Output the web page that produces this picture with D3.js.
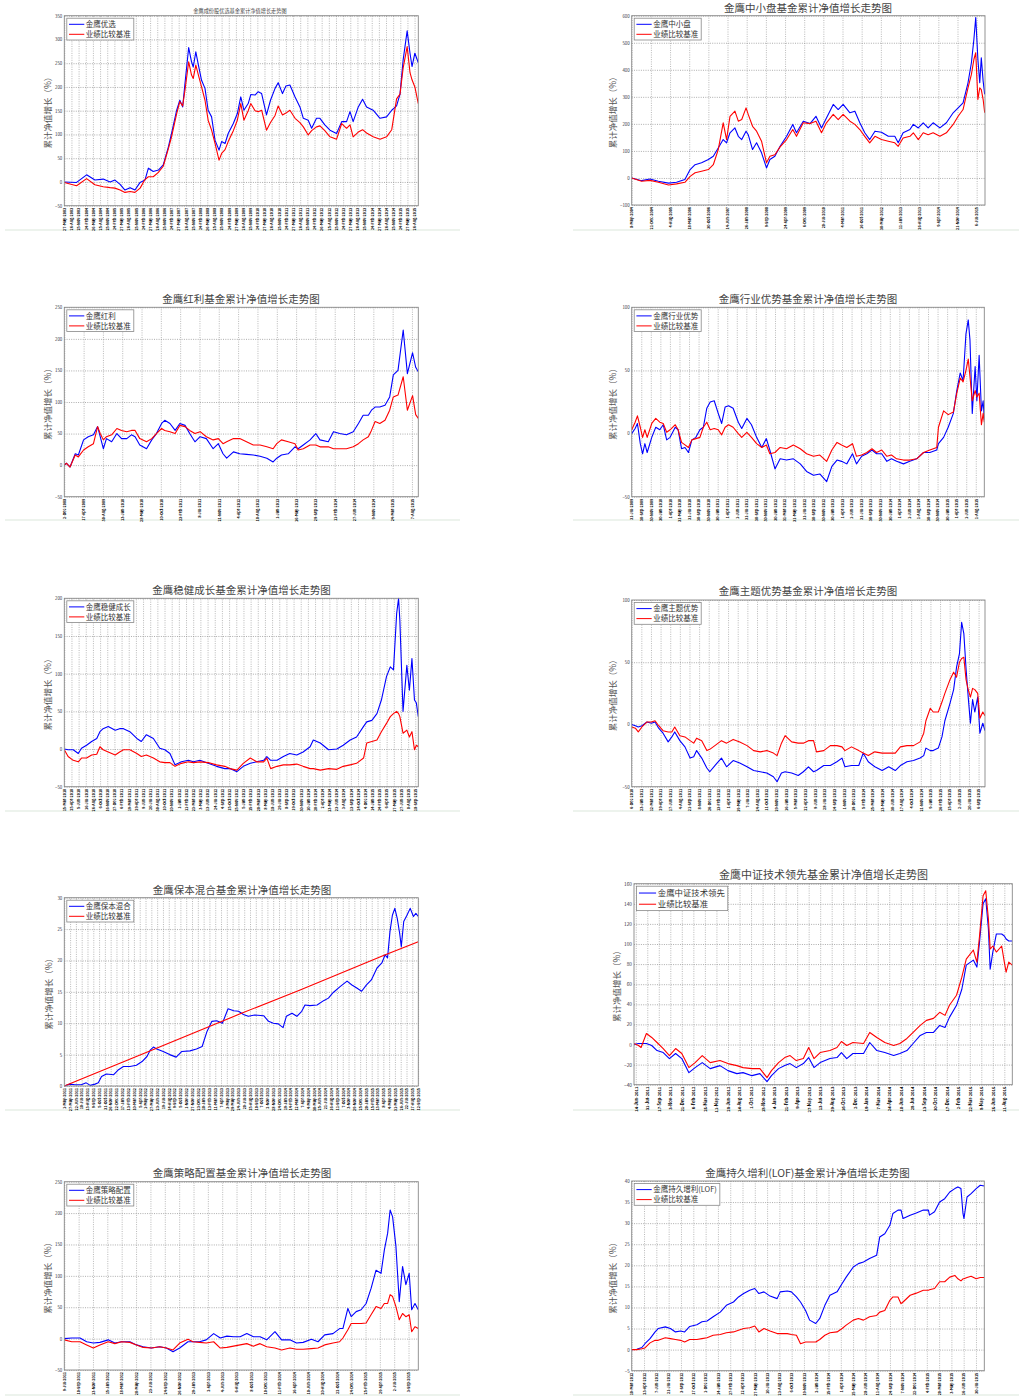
<!DOCTYPE html>
<html>
<head>
<meta charset="utf-8">
<script src="https://cdn.jsdelivr.net/npm/d3@7"></script>
<style>
body { margin: 0; background: #fff; }
svg text { font-family: "Noto Sans CJK SC", "Noto Sans", sans-serif; }
</style>
</head>
<body>
<svg id="chart" width="1019" height="1396"></svg>
<script>
(function() {

//names shown in titles and legends
var titles = ["金鹰成份股优选基金累计净值增长走势图", "金鹰中小盘基金累计净值增长走势图", "金鹰红利基金累计净值增长走势图",
    "金鹰行业优势基金累计净值增长走势图", "金鹰稳健成长基金累计净值增长走势图", "金鹰主题优势基金累计净值增长走势图",
    "金鹰保本混合基金累计净值增长走势图", "金鹰中证技术领先基金累计净值增长走势图", "金鹰策略配置基金累计净值增长走势图",
    "金鹰持久增利(LOF)基金累计净值增长走势图"];
var fundNames = ["金鹰优选", "金鹰中小盘", "金鹰红利", "金鹰行业优势", "金鹰稳健成长", "金鹰主题优势",
    "金鹰保本混合", "金鹰中证技术领先", "金鹰策略配置", "金鹰持久增利(LOF)"];
var benchName = "业绩比较基准";
var yLabel = "累计净值增长（%）";

//x ranges in decimal years, date tick start and step (years)
var xDomains = [[2003.4, 2015.78], [2004.35, 2015.78], [2008.92, 2015.72], [2009.58, 2015.73], [2010.2, 2015.76],
    [2010.93, 2015.77], [2011.33, 2015.7], [2011.43, 2015.7], [2011.52, 2015.79], [2012.19, 2015.66]];
var xTickStart = [2003.4, 2004.35, 2008.92, 2009.58, 2010.2, 2010.93, 2011.33, 2011.45, 2011.52, 2012.19];
var xTickStep = [0.25, 0.62, 0.371, 0.1667, 0.1125, 0.132, 0.0716, 0.13, 0.173, 0.121];

//y tick values
var yTicks = [
    [-50, 0, 50, 100, 150, 200, 250, 300, 350],
    [-100, 0, 100, 200, 300, 400, 500, 600],
    [-50, 0, 50, 100, 150, 200, 250],
    [-50, 0, 50, 100],
    [-50, 0, 50, 100, 150, 200],
    [-50, 0, 50, 100],
    [0, 5, 10, 15, 20, 25, 30],
    [-40, -20, 0, 20, 40, 60, 80, 100, 120, 140, 160],
    [-50, 0, 50, 100, 150, 200, 250],
    [-5, 0, 5, 10, 15, 20, 25, 30, 35, 40]
];

//panel 1 金鹰优选
var p1T = [2003.40, 2003.83, 2004.18, 2004.47, 2004.76, 2005.00, 2005.17, 2005.35, 2005.52, 2005.70,
    2005.87, 2006.05, 2006.22, 2006.34, 2006.51, 2006.69, 2006.86, 2007.04, 2007.15, 2007.33,
    2007.44, 2007.54, 2007.62, 2007.75, 2007.85, 2007.91, 2008.00, 2008.09, 2008.20, 2008.32,
    2008.43, 2008.55, 2008.67, 2008.81, 2008.90, 2009.02, 2009.13, 2009.31, 2009.45, 2009.57,
    2009.68, 2009.83, 2009.92, 2010.07, 2010.18, 2010.30, 2010.47, 2010.61, 2010.77, 2010.88,
    2011.03, 2011.15, 2011.29, 2011.47, 2011.64, 2011.76, 2011.93, 2012.05, 2012.22, 2012.34,
    2012.51, 2012.69, 2012.92, 2013.10, 2013.27, 2013.39, 2013.50, 2013.68, 2013.83, 2013.97,
    2014.20, 2014.44, 2014.67, 2014.85, 2015.02, 2015.14, 2015.25, 2015.39, 2015.49, 2015.56,
    2015.66, 2015.78];
var p1Fund = [0, -1, 15, 4, 6, 0, 4, -5, -17, -12, -17, -1, 4, 29, 22, 25, 36, 74, 102, 151,
    172, 158, 207, 283, 253, 242, 274, 246, 214, 197, 151, 137, 88, 67, 85, 81, 102, 123, 144, 179,
    151, 165, 184, 183, 190, 186, 141, 172, 197, 209, 186, 202, 204, 179, 158, 134, 130, 113, 134, 134,
    120, 109, 102, 127, 127, 148, 127, 158, 174, 158, 151, 134, 137, 151, 160, 185, 257, 318, 271, 243,
    271, 251];
var p1Bench = [-1, -8, 7, -6, -10, -12, -13, -17, -22, -20, -22, -13, 5, 11, 11, 20, 33, 70, 95, 144,
    169, 160, 193, 253, 225, 218, 246, 225, 200, 172, 130, 109, 81, 46, 60, 68, 85, 108, 130, 165,
    130, 150, 165, 150, 148, 151, 109, 125, 140, 160, 141, 145, 151, 134, 125, 116, 99, 108, 116, 118,
    108, 95, 90, 123, 113, 120, 95, 105, 110, 103, 95, 90, 95, 110, 175, 185, 240, 285, 230, 215,
    200, 165];

//panel 2 金鹰中小盘
var p2T = [2004.35, 2004.67, 2004.94, 2005.21, 2005.54, 2005.80, 2006.07, 2006.24, 2006.40, 2006.61,
    2006.83, 2006.99, 2007.15, 2007.31, 2007.42, 2007.53, 2007.69, 2007.80, 2007.91, 2008.05,
    2008.12, 2008.26, 2008.39, 2008.55, 2008.71, 2008.82, 2008.98, 2009.15, 2009.36, 2009.56,
    2009.68, 2009.90, 2010.12, 2010.31, 2010.49, 2010.65, 2010.87, 2011.03, 2011.19, 2011.41,
    2011.57, 2011.73, 2011.89, 2012.05, 2012.22, 2012.43, 2012.65, 2012.86, 2012.97, 2013.13,
    2013.35, 2013.46, 2013.62, 2013.78, 2013.94, 2014.10, 2014.32, 2014.53, 2014.75, 2014.91,
    2015.07, 2015.23, 2015.34, 2015.42, 2015.48, 2015.55, 2015.61, 2015.66, 2015.72, 2015.77];
var p2Fund = [0, -10, -4, -12, -19, -16, -6, 31, 49, 56, 68, 80, 111, 142, 130, 167, 185, 154, 142, 173,
    160, 105, 130, 93, 37, 68, 80, 117, 154, 198, 167, 210, 201, 228, 185, 222, 272, 253, 272, 241,
    247, 204, 167, 142, 173, 169, 154, 154, 130, 167, 179, 198, 185, 204, 185, 204, 185, 204, 241, 259,
    278, 352, 426, 512, 593, 438, 352, 444, 358, 309];
var p2Bench = [0, -12, -9, -16, -26, -22, -16, 6, 19, 25, 31, 49, 105, 204, 142, 228, 247, 210, 216, 259,
    235, 191, 173, 136, 56, 80, 86, 115, 142, 179, 154, 204, 201, 210, 167, 204, 235, 216, 235, 210,
    198, 179, 154, 130, 154, 142, 136, 130, 117, 148, 154, 167, 142, 167, 160, 167, 154, 167, 198, 228,
    253, 333, 383, 438, 463, 290, 333, 327, 290, 241];

//panel 3 金鹰红利
var p3T = [2008.92, 2008.96, 2009.03, 2009.13, 2009.19, 2009.29, 2009.38, 2009.48, 2009.56, 2009.61,
    2009.67, 2009.73, 2009.83, 2009.93, 2010.02, 2010.12, 2010.21, 2010.28, 2010.37, 2010.50,
    2010.60, 2010.69, 2010.79, 2010.85, 2010.95, 2011.05, 2011.14, 2011.24, 2011.33, 2011.43,
    2011.53, 2011.65, 2011.78, 2011.88, 2011.97, 2012.04, 2012.17, 2012.29, 2012.42, 2012.55,
    2012.68, 2012.81, 2012.93, 2013.00, 2013.09, 2013.22, 2013.35, 2013.41, 2013.51, 2013.64,
    2013.75, 2013.83, 2013.99, 2014.09, 2014.21, 2014.34, 2014.47, 2014.57, 2014.66, 2014.76,
    2014.82, 2014.89, 2014.98, 2015.08, 2015.17, 2015.24, 2015.33, 2015.43, 2015.51, 2015.61,
    2015.67, 2015.72];
var p3Fund = [0, 3, -3, 18, 16, 40, 45, 48, 61, 45, 26, 42, 37, 50, 42, 42, 48, 45, 32, 26,
    40, 50, 66, 71, 66, 55, 66, 63, 50, 37, 45, 42, 26, 34, 18, 11, 21, 18, 17, 16,
    14, 11, 5, 11, 16, 18, 29, 26, 32, 40, 50, 40, 37, 53, 50, 48, 53, 66, 79, 79,
    87, 92, 92, 95, 108, 143, 150, 214, 145, 178, 155, 148];
var p3Bench = [0, 3, -3, 16, 13, 24, 29, 34, 61, 50, 40, 45, 48, 58, 55, 53, 55, 55, 42, 37,
    42, 50, 58, 55, 53, 50, 63, 61, 55, 50, 53, 45, 40, 42, 34, 37, 42, 42, 37, 32,
    32, 29, 26, 34, 40, 37, 34, 24, 26, 32, 32, 29, 29, 26, 26, 26, 29, 34, 40, 45,
    55, 69, 66, 71, 87, 108, 111, 140, 87, 110, 80, 74];

//panel 4 金鹰行业优势
var p4T = [2009.58, 2009.64, 2009.68, 2009.73, 2009.77, 2009.81, 2009.85, 2009.93, 2010.00, 2010.07,
    2010.13, 2010.19, 2010.25, 2010.34, 2010.39, 2010.45, 2010.51, 2010.57, 2010.63, 2010.70,
    2010.77, 2010.83, 2010.89, 2010.95, 2011.02, 2011.09, 2011.15, 2011.21, 2011.27, 2011.35,
    2011.44, 2011.50, 2011.59, 2011.67, 2011.76, 2011.85, 2011.93, 2011.99, 2012.08, 2012.17,
    2012.28, 2012.40, 2012.52, 2012.63, 2012.75, 2012.86, 2012.98, 2013.07, 2013.16, 2013.24,
    2013.33, 2013.43, 2013.50, 2013.59, 2013.68, 2013.77, 2013.85, 2013.94, 2014.03, 2014.11,
    2014.20, 2014.32, 2014.43, 2014.55, 2014.67, 2014.78, 2014.90, 2014.93, 2015.02, 2015.10,
    2015.19, 2015.25, 2015.31, 2015.36, 2015.41, 2015.45, 2015.48, 2015.52, 2015.57, 2015.60,
    2015.64, 2015.68, 2015.71, 2015.73];
var p4Fund = [0, 4, 8, -8, -16, -8, -15, -3, 5, 3, 7, -5, -3, 5, 3, -12, -11, -15, -5, -3,
    3, 5, 20, 25, 26, 16, 8, 21, 22, 20, 9, 4, 12, 7, -3, -11, -4, -13, -28, -20,
    -21, -20, -24, -30, -33, -32, -38, -26, -21, -22, -24, -16, -24, -18, -16, -13, -16, -16, -22, -20,
    -22, -24, -22, -20, -15, -15, -13, -8, -3, 5, 16, 34, 48, 42, 79, 90, 74, 16, 53, 26,
    62, 18, 26, 11];
var p4Bench = [3, 9, 14, 5, -3, 3, -3, 8, 12, 9, 8, 1, 3, 7, 3, -7, -9, -11, -5, -4,
    -3, 5, 9, 3, 4, 3, -1, 5, 7, 5, 0, -3, 1, -3, -8, -11, -9, -16, -15, -11,
    -12, -9, -12, -16, -18, -17, -22, -13, -7, -9, -11, -8, -18, -17, -15, -12, -15, -13, -18, -17,
    -20, -21, -21, -20, -15, -13, -11, 5, 18, 15, 17, 32, 44, 41, 50, 59, 45, 26, 34, 29,
    32, 7, 16, 9];

//panel 5 金鹰稳健成长
var p5T = [2010.20, 2010.26, 2010.34, 2010.42, 2010.47, 2010.55, 2010.63, 2010.71, 2010.76, 2010.81,
    2010.89, 2011.00, 2011.07, 2011.13, 2011.23, 2011.34, 2011.41, 2011.49, 2011.60, 2011.70,
    2011.78, 2011.86, 2011.94, 2012.04, 2012.15, 2012.23, 2012.33, 2012.46, 2012.59, 2012.72,
    2012.80, 2012.91, 2013.01, 2013.12, 2013.22, 2013.33, 2013.38, 2013.44, 2013.54, 2013.64,
    2013.74, 2013.85, 2013.95, 2014.06, 2014.11, 2014.22, 2014.35, 2014.48, 2014.58, 2014.69,
    2014.79, 2014.90, 2014.95, 2015.03, 2015.11, 2015.18, 2015.26, 2015.32, 2015.37, 2015.42,
    2015.45, 2015.47, 2015.52, 2015.58, 2015.62, 2015.66, 2015.70, 2015.73, 2015.76];
var p5Fund = [0, -1, -1, -6, 1, 5, 10, 14, 23, 27, 30, 25, 27, 27, 23, 14, 10, 19, 14, 1,
    -1, -6, -21, -17, -15, -17, -15, -19, -23, -26, -26, -30, -23, -19, -17, -15, -10, -15, -15, -10,
    -6, -8, -4, 3, 12, 8, -1, 0, 5, 12, 16, 30, 36, 38, 47, 65, 96, 109, 105, 180,
    200, 171, 50, 111, 78, 120, 65, 61, 43];
var p5Bench = [-1, -10, -15, -17, -12, -12, -8, -7, 3, -1, -4, -8, -4, -1, -1, -6, -10, -8, -12, -17,
    -18, -18, -23, -19, -17, -18, -17, -18, -21, -23, -26, -28, -19, -12, -17, -17, -12, -26, -23, -21,
    -21, -20, -23, -26, -26, -28, -26, -27, -23, -21, -19, -12, 8, 10, 12, 23, 34, 43, 47, 50,
    47, 43, 21, 25, 16, 23, -1, 5, 3];

//panel 6 金鹰主题优势
var p6T = [2010.93, 2010.98, 2011.02, 2011.07, 2011.14, 2011.20, 2011.25, 2011.30, 2011.36, 2011.43,
    2011.48, 2011.52, 2011.59, 2011.66, 2011.73, 2011.78, 2011.82, 2011.89, 2011.96, 2012.00,
    2012.07, 2012.16, 2012.23, 2012.32, 2012.41, 2012.51, 2012.60, 2012.69, 2012.78, 2012.87,
    2012.92, 2012.98, 2013.03, 2013.12, 2013.21, 2013.28, 2013.35, 2013.42, 2013.46, 2013.56,
    2013.65, 2013.74, 2013.81, 2013.85, 2013.94, 2014.04, 2014.10, 2014.17, 2014.26, 2014.36,
    2014.45, 2014.54, 2014.61, 2014.70, 2014.79, 2014.88, 2014.93, 2014.96, 2015.02, 2015.06,
    2015.13, 2015.18, 2015.22, 2015.29, 2015.34, 2015.38, 2015.42, 2015.45, 2015.48, 2015.51,
    2015.54, 2015.57, 2015.60, 2015.63, 2015.67, 2015.70, 2015.74, 2015.77];
var p6Fund = [0, -1, -2, -1, 2, 1, 2, -3, -7, -14, -10, -6, -13, -18, -27, -26, -21, -27, -35, -38,
    -33, -27, -34, -29, -31, -34, -37, -38, -39, -42, -46, -39, -38, -39, -41, -38, -34, -38, -37, -33,
    -33, -30, -27, -34, -33, -33, -23, -30, -34, -37, -34, -37, -33, -30, -29, -27, -25, -19, -21, -21,
    -19, -10, 3, 17, 28, 46, 57, 82, 73, 45, 22, 1, 20, 10, 22, -7, 1, -5];
var p6Bench = [-2, -3, -6, -2, 2, 2, 3, -1, -5, -6, -6, -2, -9, -10, -13, -15, -11, -13, -21, -20,
    -17, -13, -15, -12, -14, -17, -21, -22, -21, -23, -25, -15, -9, -14, -15, -15, -13, -13, -22, -21,
    -17, -17, -18, -21, -18, -21, -23, -25, -22, -23, -23, -23, -18, -17, -17, -14, -7, 3, 13, 10,
    10, 18, 25, 36, 42, 38, 50, 53, 54, 36, 28, 22, 29, 28, 25, 5, 10, 7];

//panel 7 金鹰保本混合 (benchmark is a steady straight accrual)
var p7T = [2011.33, 2011.40, 2011.46, 2011.54, 2011.60, 2011.65, 2011.71, 2011.75, 2011.79, 2011.85,
    2011.94, 2012.00, 2012.06, 2012.14, 2012.22, 2012.29, 2012.35, 2012.39, 2012.43, 2012.47,
    2012.55, 2012.63, 2012.71, 2012.78, 2012.88, 2012.96, 2013.03, 2013.09, 2013.15, 2013.21,
    2013.28, 2013.35, 2013.42, 2013.48, 2013.54, 2013.60, 2013.68, 2013.79, 2013.85, 2013.91,
    2013.97, 2014.03, 2014.07, 2014.14, 2014.20, 2014.26, 2014.30, 2014.36, 2014.45, 2014.53,
    2014.59, 2014.65, 2014.73, 2014.82, 2014.88, 2014.94, 2015.00, 2015.06, 2015.12, 2015.19,
    2015.25, 2015.29, 2015.32, 2015.35, 2015.38, 2015.41, 2015.44, 2015.47, 2015.49, 2015.52,
    2015.56, 2015.60, 2015.64, 2015.67, 2015.70];
var p7Fund = [0, 0.3, 0.2, 0.2, 0.5, 0.1, 0.3, 0.5, 1.5, 1.9, 1.8, 2.6, 3.1, 3.1, 3.3, 3.9, 4.7, 5.7, 6.2, 5.9,
    5.5, 5.0, 4.6, 5.5, 5.6, 5.9, 6.3, 8.7, 10.3, 10.4, 10.0, 12.3, 12.0, 11.9, 11.4, 11.1, 11.3, 11.2, 10.3, 10.0,
    9.9, 9.3, 11.1, 11.6, 11.1, 11.9, 12.9, 12.8, 12.9, 13.6, 14.0, 14.9, 15.8, 16.7, 16.1, 15.6, 15.1, 16.1, 16.9, 18.8,
    19.6, 20.9, 20.4, 24.6, 27.2, 28.3, 26.7, 24.3, 22.2, 26.2, 27.2, 28.3, 27.0, 27.5, 27.0];
var p7BenchT = [2011.33, 2012.43, 2013.50, 2014.24, 2015.27, 2015.70];
var p7Bench = [0, 5.8, 11.5, 15.3, 20.8, 23.0];

//panel 8 金鹰中证技术领先
var p8T = [2011.43, 2011.48, 2011.51, 2011.57, 2011.63, 2011.69, 2011.76, 2011.83, 2011.90, 2011.97,
    2012.05, 2012.12, 2012.20, 2012.29, 2012.40, 2012.49, 2012.59, 2012.66, 2012.76, 2012.85,
    2012.93, 2012.98, 2013.06, 2013.13, 2013.19, 2013.26, 2013.34, 2013.40, 2013.46, 2013.53,
    2013.64, 2013.72, 2013.77, 2013.83, 2013.90, 2014.02, 2014.09, 2014.17, 2014.26, 2014.36,
    2014.43, 2014.51, 2014.58, 2014.66, 2014.73, 2014.81, 2014.88, 2014.94, 2014.99, 2015.07,
    2015.13, 2015.18, 2015.26, 2015.30, 2015.33, 2015.37, 2015.40, 2015.43, 2015.45, 2015.48,
    2015.52, 2015.58, 2015.61, 2015.63, 2015.66, 2015.70];
var p8Fund = [0, 1, 1, 1, -1, -6, -8, -14, -9, -14, -28, -23, -18, -24, -21, -26, -29, -28, -31, -29,
    -37, -31, -24, -21, -19, -23, -19, -13, -23, -18, -14, -13, -8, -14, -9, -9, 2, -6, -8, -11,
    -9, -6, 1, 9, 12, 12, 19, 17, 27, 39, 55, 79, 84, 77, 102, 140, 145, 115, 75, 92,
    110, 110, 108, 105, 103, 103];
var p8Bench = [1, -1, -3, 11, 7, 2, -4, -11, -4, -9, -23, -18, -11, -18, -16, -19, -21, -23, -24, -24,
    -33, -26, -18, -13, -11, -16, -14, -3, -14, -8, -6, -3, 3, -1, 2, 1, 12, 7, 2, -1,
    1, 6, 12, 19, 24, 26, 32, 29, 39, 49, 67, 85, 94, 82, 108, 148, 153, 125, 95, 98,
    92, 98, 82, 72, 82, 79];

//panel 9 金鹰策略配置
var p9T = [2011.52, 2011.61, 2011.71, 2011.79, 2011.87, 2011.95, 2012.05, 2012.13, 2012.21, 2012.31,
    2012.39, 2012.47, 2012.57, 2012.67, 2012.75, 2012.83, 2012.91, 2013.01, 2013.07, 2013.15,
    2013.23, 2013.32, 2013.40, 2013.48, 2013.56, 2013.64, 2013.72, 2013.80, 2013.88, 2013.96,
    2014.06, 2014.14, 2014.24, 2014.32, 2014.40, 2014.50, 2014.58, 2014.66, 2014.76, 2014.84,
    2014.88, 2014.94, 2014.98, 2015.04, 2015.10, 2015.16, 2015.22, 2015.28, 2015.34, 2015.38,
    2015.42, 2015.45, 2015.48, 2015.52, 2015.56, 2015.60, 2015.64, 2015.68, 2015.71, 2015.75,
    2015.79];
var p9Fund = [0, 1, 1, -5, -7, -6, -2, -7, -5, -5, -10, -13, -15, -13, -15, -21, -15, -5, -5, -5,
    -2, 8, 1, 4, 3, 3, 8, 3, 3, -2, 11, -2, -2, -7, -6, -1, -5, 6, 8, 16,
    16, 48, 35, 43, 46, 56, 80, 109, 104, 141, 168, 205, 194, 147, 59, 115, 86, 104, 46, 56,
    46];
var p9Bench = [-2, -5, -5, -10, -15, -10, -5, -8, -5, -6, -10, -14, -15, -13, -15, -18, -7, -1, -5, -6,
    -7, -5, -15, -14, -12, -10, -8, -12, -8, -13, -15, -18, -15, -17, -17, -16, -15, -10, -7, -5,
    1, 14, 24, 24, 24, 25, 38, 51, 48, 56, 56, 70, 67, 51, 30, 40, 35, 38, 11, 19,
    16];

//panel 10 金鹰持久增利(LOF)
var p10T = [2012.19, 2012.24, 2012.29, 2012.32, 2012.37, 2012.42, 2012.45, 2012.52, 2012.57, 2012.62,
    2012.67, 2012.71, 2012.76, 2012.83, 2012.88, 2012.93, 2012.99, 2013.06, 2013.12, 2013.19,
    2013.24, 2013.29, 2013.35, 2013.40, 2013.44, 2013.49, 2013.55, 2013.62, 2013.65, 2013.72,
    2013.76, 2013.81, 2013.85, 2013.90, 2013.94, 2014.00, 2014.04, 2014.09, 2014.14, 2014.21,
    2014.26, 2014.30, 2014.37, 2014.42, 2014.47, 2014.53, 2014.60, 2014.63, 2014.68, 2014.73,
    2014.76, 2014.81, 2014.84, 2014.86, 2014.93, 2014.99, 2015.06, 2015.11, 2015.12, 2015.17,
    2015.22, 2015.27, 2015.32, 2015.37, 2015.40, 2015.43, 2015.45, 2015.46, 2015.49, 2015.53,
    2015.58, 2015.62, 2015.66];
var p10Fund = [0, 0.1, 0.5, 1.4, 2.6, 4.2, 5.0, 5.4, 5.0, 4.2, 4.4, 4.2, 5.5, 5.9, 6.6, 6.8, 7.8, 8.9, 10.5, 11.3,
    12.5, 13.3, 14.1, 14.5, 13.3, 13.7, 12.7, 12.1, 13.7, 13.9, 13.7, 12.5, 11.3, 9.3, 7.0, 6.2, 7.4, 10.5, 12.9, 13.7,
    15.7, 17.2, 19.6, 20.4, 20.8, 21.6, 22.4, 26.7, 27.5, 29.5, 32.3, 33.1, 33.1, 31.1, 31.9, 32.4, 33.1, 33.1, 31.9, 32.7,
    35.0, 35.8, 37.4, 38.2, 38.6, 38.2, 32.3, 31.1, 36.2, 37.0, 38.2, 39.0, 38.8];
var p10Bench = [0, 0, 0.2, 0.4, 1.6, 2.2, 2.2, 2.8, 2.6, 2.4, 2.2, 1.8, 2.4, 2.4, 2.6, 2.8, 3.4, 3.6, 4.0, 4.2,
    4.6, 5.0, 5.2, 5.6, 4.2, 5.0, 4.4, 3.8, 3.8, 3.8, 3.6, 3.4, 1.4, 1.8, 1.8, 1.8, 2.4, 3.4, 4.0, 4.2,
    5.0, 5.8, 7.0, 7.4, 7.0, 7.8, 8.1, 8.9, 9.3, 11.7, 12.5, 12.5, 10.9, 11.3, 12.9, 13.4, 14.1, 14.1, 14.2, 14.5,
    16.1, 16.1, 17.2, 17.6, 16.8, 16.3, 16.8, 16.8, 17.1, 17.4, 16.8, 17.1, 17.1];

var fundT = [p1T, p2T, p3T, p4T, p5T, p6T, p7T, p8T, p9T, p10T];
var fundV = [p1Fund, p2Fund, p3Fund, p4Fund, p5Fund, p6Fund, p7Fund, p8Fund, p9Fund, p10Fund];
var benchT = [p1T, p2T, p3T, p4T, p5T, p6T, p7BenchT, p8T, p9T, p10T];
var benchV = [p1Bench, p2Bench, p3Bench, p4Bench, p5Bench, p6Bench, p7Bench, p8Bench, p9Bench, p10Bench];

//page layout of each panel (plot box, title, y label, separator line)
var layout = [
    {x0: 64.3, x1: 418.3, y0: 15.7, y1: 205.7, tx: 240, ty: 12.5, ts: 5.2, lx: 48, sep: 230},
    {x0: 631.7, x1: 985, y0: 15.7, y1: 205, tx: 808, ty: 12, ts: 10.5, lx: 613, sep: 230},
    {x0: 64.3, x1: 418.3, y0: 307.3, y1: 496.7, tx: 241, ty: 303, ts: 10.5, lx: 48, sep: 520},
    {x0: 631.7, x1: 984.3, y0: 307.3, y1: 496.7, tx: 808, ty: 303, ts: 10.5, lx: 613, sep: 520},
    {x0: 64.3, x1: 418.3, y0: 598.3, y1: 786.7, tx: 241.5, ty: 594, ts: 10.5, lx: 48, sep: 811},
    {x0: 631.7, x1: 985, y0: 600, y1: 786.7, tx: 808, ty: 595, ts: 10.5, lx: 613, sep: 811},
    {x0: 64.3, x1: 418.3, y0: 897.7, y1: 1086, tx: 242, ty: 894, ts: 10.5, lx: 49, sep: 1110},
    {x0: 634, x1: 1012.3, y0: 883.7, y1: 1084.7, tx: 823.5, ty: 879, ts: 11, lx: 617, sep: 1110, big: true},
    {x0: 64.3, x1: 418.3, y0: 1181.7, y1: 1370, tx: 242, ty: 1177, ts: 10.5, lx: 48, sep: 1395},
    {x0: 631.7, x1: 984.3, y0: 1181, y1: 1370.7, tx: 807.5, ty: 1177, ts: 10.5, lx: 613, sep: 1395}
];

var svg = d3.select("#chart");
var fmt = d3.timeFormat("%-d-%b-%Y");

//decimal year to Date
function yr(v) {
    var y = Math.floor(v),
        a = new Date(y, 0, 1),
        b = new Date(y + 1, 0, 1);
    return new Date(+a + (v - y) * (b - a));
}

for (var i = 0; i < layout.length; i++) {
    drawPanel(i, layout[i]);
}

function drawPanel(i, L) {
    var g = svg.append("g").attr("class", "panel");
    var left = L.x0 < 500;
    var w = L.x1 - L.x0, h = L.y1 - L.y0;
    var tickFont = L.big ? 4.8 : 4.4;

    var x = d3.scaleTime()
        .domain([yr(xDomains[i][0]), yr(xDomains[i][1])])
        .range([L.x0, L.x1]);
    var yt = yTicks[i];
    var y = d3.scaleLinear()
        .domain([yt[0], yt[yt.length - 1]])
        .range([L.y1, L.y0]);
    var xt = d3.range(xTickStart[i], xDomains[i][1] + 1e-6, xTickStep[i]).map(yr);

    //separator under panel
    g.append("line")
        .attr("x1", left ? 5 : 573).attr("x2", left ? 460 : 1019)
        .attr("y1", L.sep).attr("y2", L.sep)
        .attr("stroke", "#dbe7db").attr("stroke-width", 1);

    //title
    g.append("text")
        .attr("x", L.tx).attr("y", L.ty)
        .attr("text-anchor", "middle")
        .attr("font-size", L.ts)
        .attr("fill", "#444")
        .text(titles[i]);

    //y axis title
    g.append("text")
        .attr("transform", "translate(" + L.lx + "," + ((L.y0 + L.y1) / 2) + ") rotate(-90)")
        .attr("text-anchor", "middle")
        .attr("dy", "0.35em")
        .attr("font-size", 8.5)
        .attr("fill", "#555")
        .text(yLabel);

    //plot background
    g.append("rect")
        .attr("x", L.x0).attr("y", L.y0).attr("width", w).attr("height", h)
        .attr("fill", "#fff");

    //vertical grid
    g.append("g")
        .attr("transform", "translate(0," + L.y1 + ")")
        .call(d3.axisBottom(x).tickValues(xt).tickSize(-h).tickFormat(""))
        .call(function(s) { s.select(".domain").remove(); })
        .selectAll("line")
        .attr("stroke", "#8a8a8a")
        .attr("stroke-width", 0.6)
        .attr("stroke-dasharray", "1,1.3");

    //horizontal grid
    g.append("g")
        .attr("transform", "translate(" + L.x0 + ",0)")
        .call(d3.axisLeft(y).tickValues(yt).tickSize(-w).tickFormat(""))
        .call(function(s) { s.select(".domain").remove(); })
        .selectAll("line")
        .attr("stroke", "#8a8a8a")
        .attr("stroke-width", 0.7)
        .attr("stroke-dasharray", "1,1.3");

    //y tick labels
    var ya = g.append("g")
        .attr("transform", "translate(" + L.x0 + ",0)")
        .call(d3.axisLeft(y).tickValues(yt).tickSize(0).tickPadding(2));
    ya.select(".domain").remove();
    ya.selectAll("text").attr("font-size", tickFont).attr("fill", "#334");

    //x tick labels (rotated dates)
    var xa = g.append("g")
        .attr("transform", "translate(0," + L.y1 + ")")
        .call(d3.axisBottom(x).tickValues(xt).tickSize(0).tickFormat(fmt));
    xa.select(".domain").remove();
    xa.selectAll("text")
        .attr("transform", "rotate(-90)")
        .attr("x", -2).attr("y", 0).attr("dy", "0.35em")
        .attr("text-anchor", "end")
        .attr("font-size", L.big ? 4.1 : 3.7)
        .attr("font-weight", 600)
        .attr("fill", "#000");

    //clip for lines
    var clipId = "clip" + i;
    g.append("clipPath").attr("id", clipId)
        .append("rect")
        .attr("x", L.x0).attr("y", L.y0 - 1).attr("width", w).attr("height", h + 2);

    var line = d3.line()
        .x(function(d) { return x(yr(d[0])); })
        .y(function(d) { return y(d[1]); });

    var fundPts = d3.zip(fundT[i], fundV[i]);
    var benchPts = d3.zip(benchT[i], benchV[i]);

    g.append("path")
        .datum(fundPts)
        .attr("clip-path", "url(#" + clipId + ")")
        .attr("fill", "none")
        .attr("stroke", "#0000ff")
        .attr("stroke-width", 1.1)
        .attr("stroke-linejoin", "round")
        .attr("d", line);

    g.append("path")
        .datum(benchPts)
        .attr("clip-path", "url(#" + clipId + ")")
        .attr("fill", "none")
        .attr("stroke", "#ff0000")
        .attr("stroke-width", 1.1)
        .attr("stroke-linejoin", "round")
        .attr("d", line);

    //plot frame
    g.append("rect")
        .attr("x", L.x0).attr("y", L.y0).attr("width", w).attr("height", h)
        .attr("fill", "none")
        .attr("stroke", "#888")
        .attr("stroke-width", 0.9);

    //legend
    var k = L.big ? 1.12 : 1;
    var lg = g.append("g").attr("transform", "translate(" + (L.x0 + 2.5) + "," + (L.y0 + 2.5) + ")");
    var box = lg.append("rect")
        .attr("x", 0).attr("y", 0).attr("height", 21.8 * k)
        .attr("fill", "#fff").attr("stroke", "#888").attr("stroke-width", 0.8);
    var items = [[fundNames[i], "#0000ff"], [benchName, "#ff0000"]];
    var maxW = 0;
    items.forEach(function(it, j) {
        var yy = (6.1 + j * 10) * k;
        lg.append("line")
            .attr("x1", 2.2 * k).attr("x2", 17.5 * k)
            .attr("y1", yy).attr("y2", yy)
            .attr("stroke", it[1]).attr("stroke-width", 1);
        var t = lg.append("text")
            .attr("x", 19 * k).attr("y", yy).attr("dy", "0.35em")
            .attr("font-size", 7.5 * k)
            .attr("fill", "#333")
            .text(it[0]);
        maxW = Math.max(maxW, t.node().getComputedTextLength());
    });
    box.attr("width", 19 * k + maxW + 3);
}

})();
</script>
</body>
</html>
